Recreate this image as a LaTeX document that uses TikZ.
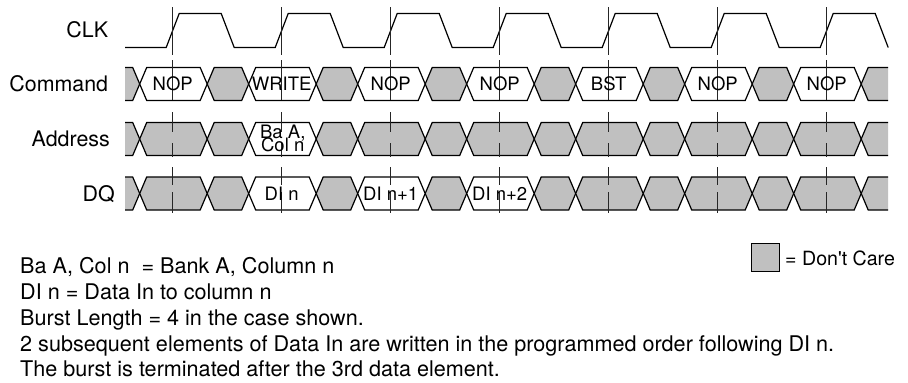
\documentclass[tikz,border=0pt]{standalone}
\usepackage{fontspec}
\setmainfont{TeX Gyre Heros}
\definecolor{dcgray}{RGB}{192,192,192}
\tikzset{
  sig/.style={line width=1.2pt, line join=miter},
  care/.style={sig, draw=black, fill=dcgray},
  valid/.style={sig, draw=black, fill=white},
  tickline/.style={line width=0.8pt, draw=black!85, dash pattern=on 48pt off 5pt on 40pt off 12pt on 20pt off 11pt on 14pt off 10pt on 18pt off 7pt on 21pt},
  lbl/.style={font=\fontsize{21.4}{25}\selectfont, inner sep=0pt, anchor=base east},
  bustext/.style={font=\fontsize{18.5}{14}\selectfont, inner sep=0pt, anchor=base},
  note/.style={font=\fontsize{21.6}{25.8}\selectfont, inner sep=0pt, anchor=base west},
  keybox/.style={draw=black, line width=1pt, fill=dcgray, minimum width=27.6pt, minimum height=28.4pt, inner sep=0pt},
  keytext/.style={font=\fontsize{19.6}{23}\selectfont, inner sep=0pt, anchor=base west},
}
% hexagon window: #1 style, #2 left point, #3 right point, #4 row centre
\newcommand\hexseg[4]{%
  \path[#1] (#2,#4) -- ({#2+7},{#4-16.5}) -- ({#3-7},{#4-16.5}) -- (#3,#4)
    -- ({#3-7},{#4+16.5}) -- ({#2+7},{#4+16.5}) -- cycle;}
\begin{document}
\begin{tikzpicture}[x=1pt,y=-1pt]
\useasboundingbox (0,0) rectangle (908,383);
\def\Dz{172.7}
\def\Pd{109}

% signal labels
\node[lbl] (clk) at (108.3,37) {CLK};
\node[lbl] (cmd) at (108.3,91.7) {Command};
\node[lbl] (adr) at (110,146.7) {Address};
\node[lbl] (dq)  at (115,201.2) {DQ};

% clock
\draw[sig] (125,47.5)
  \foreach \k in {0,...,6}{
    -- ({\Dz+\k*\Pd-6.5},47.5) -- ({\Dz+\k*\Pd+6.5},13.5)
    -- ({\Dz+\k*\Pd+48.5},13.5) -- ({\Dz+\k*\Pd+61.5},47.5)};

% don't-care gaps, start and end of each bus
\foreach \c in {84,139,193.5}{
  \path[care] (125,\c-16.5) -- ({\Dz-40},\c-16.5) -- ({\Dz-33},\c) -- ({\Dz-40},\c+16.5) -- (125,\c+16.5);
  \path[care] (888,\c-16.5) -- ({\Dz+6*\Pd+41.5},\c-16.5) -- ({\Dz+6*\Pd+34.5},\c) -- ({\Dz+6*\Pd+41.5},\c+16.5) -- (888,\c+16.5);
  \foreach \k in {0,...,5}{
    \pgfmathsetmacro\xa{\Dz+\k*\Pd+34.5}
    \pgfmathsetmacro\xb{\Dz+(\k+1)*\Pd-33}
    \hexseg{care}{\xa}{\xb}{\c}
  }
}

% Command windows
\foreach \k in {0,...,6}{
  \pgfmathsetmacro\xm{\Dz+\k*\Pd}
  \hexseg{valid}{\xm-33}{\xm+34.5}{84}
}
% Address windows
\foreach \k in {0,2,3,4,5,6}{
  \pgfmathsetmacro\xm{\Dz+\k*\Pd}
  \hexseg{care}{\xm-33}{\xm+34.5}{139}
}
\pgfmathsetmacro\xm{\Dz+\Pd}
\hexseg{valid}{\xm-33}{\xm+34.5}{139}
% DQ windows
\foreach \k in {0,4,5,6}{
  \pgfmathsetmacro\xm{\Dz+\k*\Pd}
  \hexseg{care}{\xm-33}{\xm+34.5}{193.5}
}
\foreach \k in {1,2,3}{
  \pgfmathsetmacro\xm{\Dz+\k*\Pd}
  \hexseg{valid}{\xm-33}{\xm+34.5}{193.5}
}

% clock reference lines
\foreach \k in {0,...,6}{
  \draw[tickline] ({\Dz+\k*\Pd},7) -- ({\Dz+\k*\Pd},213);
}

% window texts
\foreach \k/\t in {0/NOP,1/WRITE,2/NOP,3/NOP,4/BST,5/NOP,6/NOP}{
  \node[bustext] (c\k) at ({\Dz+\k*\Pd},90.6) {\t};
}
\node[bustext] (a1) at (282.8,138) {Ba A,};
\node[bustext] (a1b) at (282.7,151.3) {Col n};
\node[bustext] (d1) at ({\Dz+\Pd},200) {DI n};
\node[bustext] (d2) at ({\Dz+2*\Pd},200) {DI n+1};
\node[bustext] (d3) at ({\Dz+3*\Pd},200) {DI n+2};

% legend
\node[keybox] (key) at (765.5,257.5) {};
\node[keytext] (keyt) at (785,265) {= Don\textquotesingle t Care};

% notes
\node[note] (n1) at (20,273.3) {Ba A, Col n\ \ = Bank A, Column n};
\node[note] (n2) at (20,299.3) {DI n = Data In to column n};
\node[note] (n3) at (20,325) {Burst Length = 4 in the case shown.};
\node[note] (n4) at (20,351) {2 subsequent elements of Data In are written in the programmed order following DI n.};
\node[note] (n5) at (20,376.7) {The burst is terminated after the 3rd data element.};
\end{tikzpicture}
\end{document}
